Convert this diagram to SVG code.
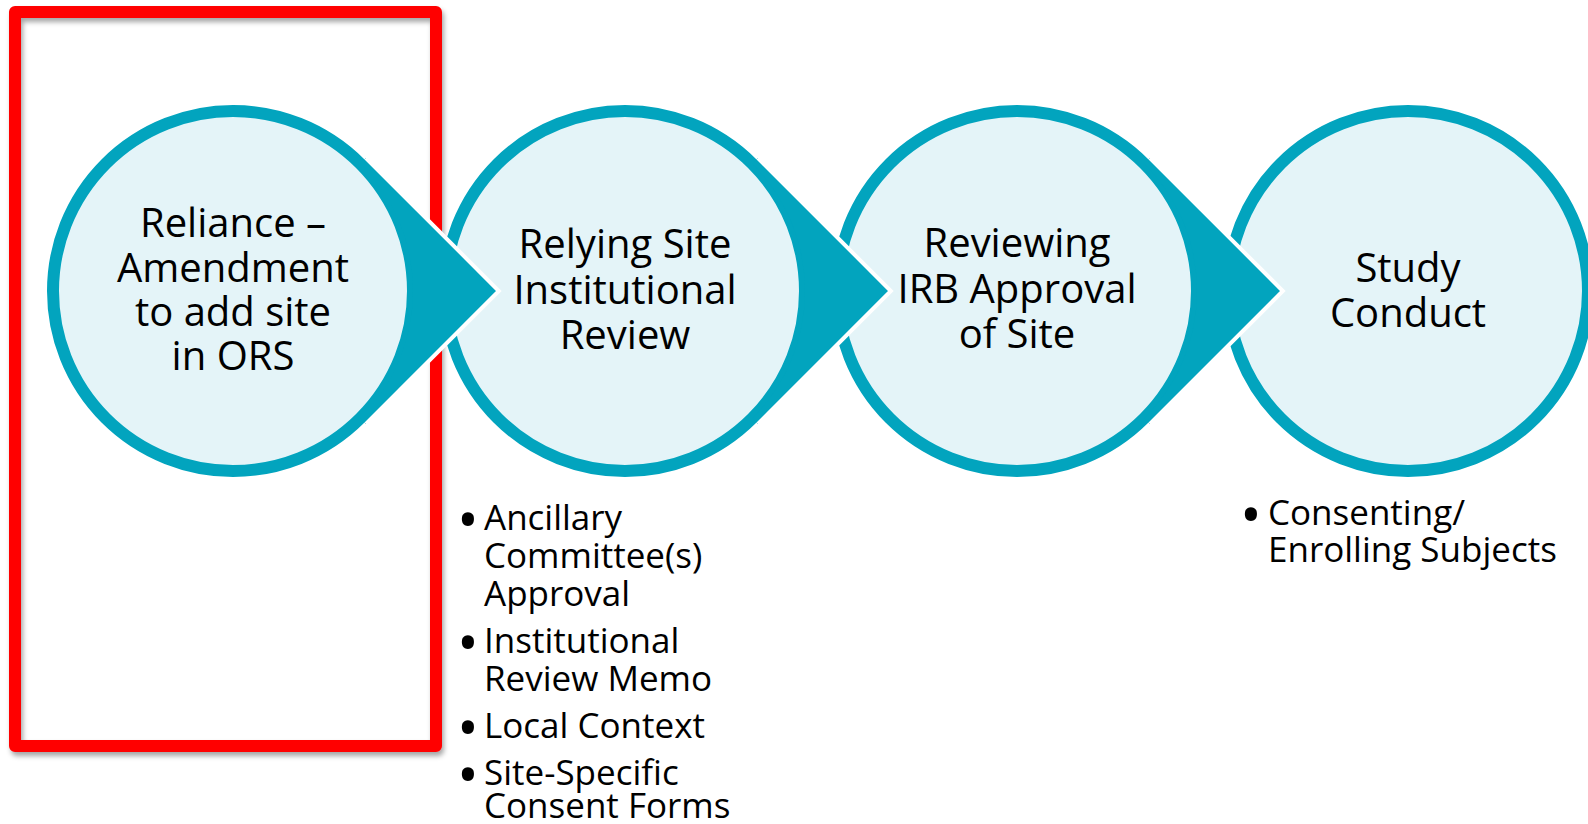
<svg xmlns="http://www.w3.org/2000/svg" width="1588" height="824" viewBox="0 0 1588 824">
<defs>
<filter id="sh" x="-5%" y="-5%" width="115%" height="115%">
<feDropShadow dx="2" dy="4" stdDeviation="2.5" flood-color="#000" flood-opacity="0.35"/>
</filter>
<style>
.ring{fill:#E4F4F8;stroke:#02A4BE;stroke-width:12}
.t{font-family:"Open Sans","Liberation Sans",sans-serif;font-size:40px;fill:#000;text-anchor:middle}
.b{font-family:"Open Sans","Liberation Sans",sans-serif;font-size:35px;fill:#000}
.dot{font-size:58px}
.wedge{fill:#02A4BE;stroke:none}
.edge{fill:none;stroke:#fff;stroke-width:4;stroke-linejoin:miter}
</style>
</defs>
<rect width="1588" height="824" fill="#fff"/>
<rect id="highlight" x="15" y="12" width="421" height="734" fill="none" stroke="#FF0000" stroke-width="12" stroke-linejoin="round" filter="url(#sh)"/>

<g id="node1">
<circle class="ring" cx="233" cy="291" r="180"/>
<text class="t"><tspan x="233" y="237">Reliance –</tspan><tspan x="233" y="282">Amendment</tspan><tspan x="233" y="326">to add site</tspan><tspan x="233" y="370">in ORS</tspan></text>
</g>
<g id="node2">
<circle class="ring" cx="625" cy="291" r="180"/>
<text class="t"><tspan x="625" y="258">Relying Site</tspan><tspan x="625" y="304">Institutional</tspan><tspan x="625" y="349">Review</tspan></text>
</g>
<g id="node3">
<circle class="ring" cx="1017" cy="291" r="180"/>
<text class="t"><tspan x="1017" y="257">Reviewing</tspan><tspan x="1017" y="303">IRB Approval</tspan><tspan x="1017" y="348">of Site</tspan></text>
</g>
<g id="node4">
<circle class="ring" cx="1408" cy="291" r="180"/>
<text class="t"><tspan x="1408" y="282">Study</tspan><tspan x="1408" y="327">Conduct</tspan></text>
</g>

<g id="connectors">
<g transform="translate(233,291)">
<path class="wedge" d="M132.94,-132.94 L265.87,0 L132.94,132.94 L127.28,127.28 A180,180 0 0 0 127.28,-127.28 Z"/>
<polyline class="edge" points="132.94,-132.94 265.87,0 132.94,132.94"/>
</g>
<g transform="translate(625,291)">
<path class="wedge" d="M132.94,-132.94 L265.87,0 L132.94,132.94 L127.28,127.28 A180,180 0 0 0 127.28,-127.28 Z"/>
<polyline class="edge" points="132.94,-132.94 265.87,0 132.94,132.94"/>
</g>
<g transform="translate(1017,291)">
<path class="wedge" d="M132.94,-132.94 L265.87,0 L132.94,132.94 L127.28,127.28 A180,180 0 0 0 127.28,-127.28 Z"/>
<polyline class="edge" points="132.94,-132.94 265.87,0 132.94,132.94"/>
</g>
</g>

<g id="notes-review">
<text class="b"><tspan class="dot" x="457" y="541">•</tspan><tspan x="484" y="530">Ancillary</tspan><tspan x="484" y="568">Committee(s)</tspan><tspan x="484" y="606">Approval</tspan></text>
<text class="b"><tspan class="dot" x="457" y="664">•</tspan><tspan x="484" y="653">Institutional</tspan><tspan x="484" y="691">Review Memo</tspan></text>
<text class="b"><tspan class="dot" x="457" y="749">•</tspan><tspan x="484" y="738">Local Context</tspan></text>
<text class="b"><tspan class="dot" x="457" y="796">•</tspan><tspan x="484" y="785">Site-Specific</tspan><tspan x="484" y="818">Consent Forms</tspan></text>
</g>
<g id="notes-conduct">
<text class="b"><tspan class="dot" x="1240" y="536">•</tspan><tspan x="1268" y="525">Consenting/</tspan><tspan x="1268" y="562">Enrolling Subjects</tspan></text>
</g>
</svg>
